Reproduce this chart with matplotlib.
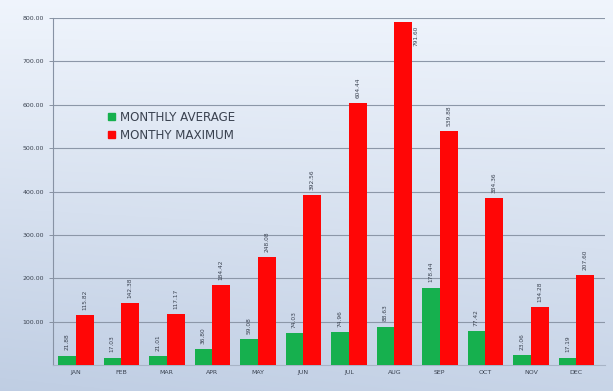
import numpy as np
import matplotlib
matplotlib.use("Agg")
import matplotlib.pyplot as plt
from matplotlib.patches import Patch

months = ["JAN", "FEB", "MAR", "APR", "MAY", "JUN", "JUL", "AUG", "SEP", "OCT", "NOV", "DEC"]
monthly_average = [21.88, 17.03, 21.01, 36.80, 59.08, 74.03, 74.96, 88.63, 178.44, 77.42, 23.06, 17.19]
monthly_maximum = [115.82, 142.38, 117.17, 184.42, 248.08, 392.56, 604.44, 791.60, 539.88, 384.36, 134.28, 207.60]
y_ticks = [100, 200, 300, 400, 500, 600, 700, 800]

GREEN = "#16b04e"
RED = "#ff0606"
TXT = "#3a4250"

fig = plt.figure(figsize=(6.13, 3.91), dpi=100)

# soft blue-grey gradient backdrop
bg = fig.add_axes([0, 0, 1, 1], zorder=-10)
yy, xx = np.mgrid[0:1:200j, 0:1:200j]
t = np.clip(0.75 * yy + 0.15 * (1 - xx) * yy, 0, 1)
top = np.array([0.94, 0.96, 0.99])
bot = np.array([0.73, 0.79, 0.88])
img = top[None, None, :] * (1 - t[..., None]) + bot[None, None, :] * t[..., None]
bg.imshow(img, aspect="auto", extent=[0, 1, 0, 1], origin="upper")
bg.set_axis_off()

ax = fig.add_axes([53 / 613, 26 / 391, 552 / 613, 347 / 391])
ax.set_facecolor("none")
x = np.arange(len(months))
w = 0.39
ax.bar(x - w / 2, monthly_average, width=w, color=GREEN, zorder=3)
ax.bar(x + w / 2, monthly_maximum, width=w, color=RED, zorder=3)

ax.set_ylim(0, 800)
ax.set_xlim(-0.5, len(months) - 0.37)
ax.set_yticks(y_ticks)
ax.set_yticklabels([f"{v:.2f}" for v in y_ticks])
ax.set_xticks(x)
ax.set_xticklabels(months)
ax.tick_params(axis="y", labelsize=4.5, colors="#7a8494", labelcolor=TXT, length=3, width=0.6)
ax.tick_params(axis="x", labelsize=4.5, labelcolor=TXT, length=0)
ax.yaxis.grid(True, color="#8c97a8", linewidth=0.8, zorder=0)
for side in ["top", "right"]:
    ax.spines[side].set_visible(False)
ax.spines["left"].set_color("#8792a4")
ax.spines["bottom"].set_color("#a8b4c6")

ymax = ax.get_ylim()[1]
for xi, v in zip(x - w / 2, monthly_average):
    ax.text(xi, v + 12, f"{v:.2f}", rotation=90, ha="center", va="bottom", fontsize=4.2, color=TXT, zorder=4)
for xi, v in zip(x + w / 2, monthly_maximum):
    if v + 70 > ymax:
        ax.text(xi + w / 2 + 0.03, v - 10, f"{v:.2f}", rotation=90, ha="left", va="top", fontsize=4.2, color=TXT, zorder=4)
    else:
        ax.text(xi, v + 12, f"{v:.2f}", rotation=90, ha="center", va="bottom", fontsize=4.2, color=TXT, zorder=4)

handles = [Patch(color=GREEN, label="MONTHLY AVERAGE"), Patch(color=RED, label="MONTHY MAXIMUM")]
ax.legend(handles=handles, loc="upper left", bbox_to_anchor=(0.085, 0.757), frameon=False,
          fontsize=8.6, handlelength=0.55, handleheight=0.55, handletextpad=0.45, labelspacing=0.45,
          labelcolor=TXT, borderpad=0.2)

fig.savefig("out.png", dpi=100)
